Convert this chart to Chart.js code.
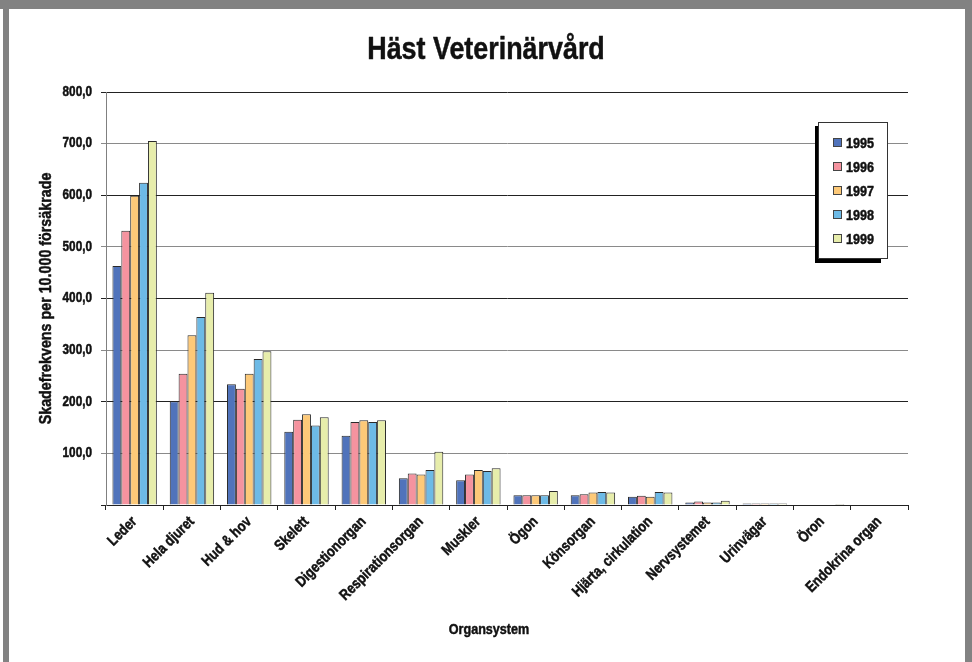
<!DOCTYPE html>
<html>
<head>
<meta charset="utf-8">
<script src="https://cdn.jsdelivr.net/npm/chart.js@4.4.0/dist/chart.umd.min.js"></script>
<style>
  html, body { margin: 0; padding: 0; background: #fff; }
  #wrap { position: relative; width: 972px; height: 662px; overflow: hidden; }
  #chart { position: absolute; left: 0; top: 0; }
  .band { position: absolute; background: #828282; }
</style>
</head>
<body>
<div id="wrap">
  <canvas id="chart" width="972" height="662"></canvas>
  <div class="band" style="left:0;top:0;width:972px;height:9px;"></div>
  <div class="band" style="left:3px;top:0;width:6px;height:662px;"></div>
  <div class="band" style="left:965px;top:0;width:7px;height:662px;"></div>
</div>
<script>
// Categories (organ systems)
const categories = ['Leder', 'Hela djuret', 'Hud & hov', 'Skelett', 'Digestionorgan',
    'Respirationsorgan', 'Muskler', 'Ögon', 'Könsorgan', 'Hjärta, cirkulation',
    'Nervsystemet', 'Urinvägar', 'Öron', 'Endokrina organ'];

// Claims per 10.000 insured, per year
const years = ['1995', '1996', '1997', '1998', '1999'];
const v1995 = [463, 201, 234, 142, 134, 52, 48, 19, 19, 16, 5, 3, 1, 1];
const v1996 = [531, 254, 225, 165, 161, 61, 59, 19, 21, 18, 7, 3, 1, 1];
const v1997 = [599, 329, 254, 176, 164, 59, 68, 19, 24, 16, 5, 3, 1, 1];
const v1998 = [624, 364, 283, 154, 161, 68, 66, 19, 25, 25, 5, 3, 1, 1];
const v1999 = [705, 411, 298, 170, 164, 103, 71, 27, 24, 24, 8, 3, 2, 1];

// Y axis tick labels (0 is left blank)
const yTickLabels = ['', '100,0', '200,0', '300,0', '400,0', '500,0', '600,0', '700,0', '800,0'];

const colors = ['#5073bb', '#f5939f', '#fdc978', '#6dbae6', '#e7edab'];
const FONT = '"Liberation Sans", Arial, sans-serif';

// no condensed face installed: squeeze the glyphs horizontally instead,
// and thicken them a little with a thin stroke
const SQUEEZE = 0.84;
const proto = CanvasRenderingContext2D.prototype;
const origFill = proto.fillText;
const origMeasure = proto.measureText;
proto.fillText = function(text, x, y, maxWidth) {
    this.save();
    this.translate(x, y);
    this.scale(SQUEEZE, 1);
    this.strokeStyle = this.fillStyle;
    this.lineWidth = 0.5;
    this.lineJoin = 'round';
    this.setLineDash([]);
    if (maxWidth !== undefined) {
        origFill.call(this, text, 0, 0, maxWidth / SQUEEZE);
        this.strokeText(text, 0, 0, maxWidth / SQUEEZE);
    } else {
        origFill.call(this, text, 0, 0);
        this.strokeText(text, 0, 0);
    }
    this.restore();
};
proto.measureText = function(text) {
    const m = origMeasure.call(this, text);
    return {
        width: m.width * SQUEEZE,
        actualBoundingBoxAscent: m.actualBoundingBoxAscent,
        actualBoundingBoxDescent: m.actualBoundingBoxDescent,
        actualBoundingBoxLeft: m.actualBoundingBoxLeft * SQUEEZE,
        actualBoundingBoxRight: m.actualBoundingBoxRight * SQUEEZE
    };
};

// Legend box drawn inside the plot, Excel style with shadow,
// plus the x axis title centred on the page like the original
const boxLegend = {
    id: 'boxLegend',
    afterDraw(chart) {
        const ctx = chart.ctx;
        const x = 818, y = 122, w = 70, h = 137;
        ctx.save();
        ctx.fillStyle = '#000';
        ctx.fillRect(x - 3, y + 4, w - 4, h);
        ctx.fillStyle = '#fff';
        ctx.fillRect(x, y, w, h);
        ctx.strokeStyle = '#333';
        ctx.lineWidth = 1;
        ctx.strokeRect(x + 0.5, y + 0.5, w - 1, h - 1);
        ctx.font = 'bold 15px ' + FONT;
        ctx.textBaseline = 'middle';
        chart.data.datasets.forEach((ds, i) => {
            const cy = y + 21 + i * 24;
            ctx.fillStyle = ds.backgroundColor;
            ctx.fillRect(x + 16, cy - 4, 7, 7);
            ctx.strokeStyle = '#444';
            ctx.lineWidth = 1;
            ctx.strokeRect(x + 15.5, cy - 4.5, 8, 8);
            ctx.fillStyle = '#111';
            ctx.fillText(ds.label, x + 28, cy + 1);
        });

        ctx.font = 'bold 15px ' + FONT;
        ctx.textAlign = 'center';
        ctx.fillStyle = '#111';
        ctx.fillText('Organsystem', 489, 630);
        ctx.restore();
    }
};

const series = [v1995, v1996, v1997, v1998, v1999];

new Chart(document.getElementById('chart'), {
    type: 'bar',
    data: {
        labels: categories,
        datasets: years.map((yr, i) => ({
            label: yr,
            data: series[i],
            backgroundColor: colors[i],
            borderColor: '#2a2a2a',
            borderWidth: 1,
            borderSkipped: 'bottom',
            categoryPercentage: 0.775,
            barPercentage: 1
        }))
    },
    options: {
        responsive: false,
        animation: false,
        layout: { padding: { left: 30, right: 30, top: 0, bottom: 0 } },
        plugins: {
            legend: { display: false },
            tooltip: { enabled: false },
            title: {
                display: true,
                text: 'Häst Veterinärvård',
                color: '#111',
                font: { family: FONT, size: 32, weight: 'bold' },
                padding: { top: 31, bottom: 22.6 }
            }
        },
        scales: {
            x: {
                afterFit(scale) { scale.height = 157; },
                grid: {
                    drawOnChartArea: false,
                    drawTicks: true,
                    tickLength: 5,
                    color: '#222'
                },
                border: { color: '#222', width: 1 },
                ticks: {
                    maxRotation: 45,
                    minRotation: 45,
                    padding: 3,
                    color: '#111',
                    font: { family: FONT, size: 15, weight: 'bold' }
                }
            },
            y: {
                min: 0,
                max: 800,
                afterFit(scale) { scale.width = 76; },
                grid: {
                    color: ctx => (ctx.tick && ctx.tick.value % 200 === 0) ? '#222' : '#8a8a8a',
                    lineWidth: 1,
                    tickLength: 5
                },
                border: { color: '#808080', width: 1 },
                ticks: {
                    stepSize: 100,
                    padding: 9,
                    color: '#111',
                    font: { family: FONT, size: 14, weight: 'bold' },
                    callback: (value, index) => yTickLabels[index]
                },
                title: {
                    display: true,
                    text: 'Skadefrekvens per 10.000 försäkrade',
                    color: '#111',
                    font: { family: FONT, size: 17, weight: 'bold' },
                    padding: { top: 6, bottom: 0 }
                }
            },
            // empty spacer on the right so the title centres on the page
            spacer: {
                type: 'linear',
                position: 'right',
                afterFit(scale) { scale.width = 34; },
                grid: { display: false },
                border: { display: false },
                ticks: { display: false }
            }
        }
    },
    plugins: [boxLegend]
});
</script>
</body>
</html>
